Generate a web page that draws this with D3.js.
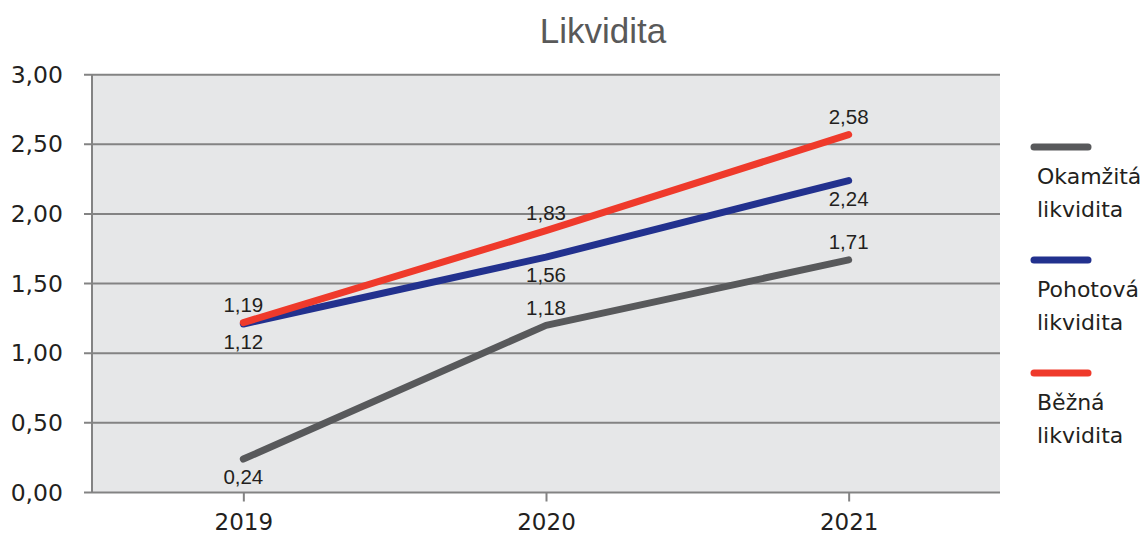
<!DOCTYPE html>
<html>
<head>
<meta charset="utf-8">
<script src="https://cdn.jsdelivr.net/npm/d3@7"></script>
<style>
  body { margin: 0; background: #fff; }
  text { font-family: "Liberation Sans", Arial, sans-serif; }
</style>
</head>
<body>
<div id="chart"></div>
<script>
// categories and series (plotted values, labels as printed)
var years = ["2019", "2020", "2021"];
var okamzita = [0.24, 1.20, 1.67];
var pohotova = [1.21, 1.69, 2.24];
var bezna = [1.22, 1.88, 2.57];
var okamzitaLabels = ["0,24", "1,18", "1,71"];
var pohotovaLabels = ["1,12", "1,56", "2,24"];
var beznaLabels = ["1,19", "1,83", "2,58"];
var seriesNames = [["Okamžitá", "likvidita"], ["Pohotová", "likvidita"], ["Běžná", "likvidita"]];
var yTicks = [0, 0.5, 1, 1.5, 2, 2.5, 3];

var W = 1145, H = 537,
    margin = {top: 74.7, right: 145, bottom: 44.5, left: 92},
    w = W - margin.left - margin.right,
    h = H - margin.top - margin.bottom;

var series = [
  {name: seriesNames[0], values: okamzita, labels: okamzitaLabels, color: "#58595b", side: [1, -1, -1]},
  {name: seriesNames[1], values: pohotova, labels: pohotovaLabels, color: "#22318e", side: [1, 1, 1]},
  {name: seriesNames[2], values: bezna, labels: beznaLabels, color: "#ef3a2b", side: [-1, -1, -1]}
];

var locale = d3.formatLocale({decimal: ",", thousands: " ", grouping: [3], currency: ["", " Kč"]});
var fmt = locale.format(".2f");
var wide = "'DejaVu Sans', Verdana, sans-serif";

var svg = d3.select("#chart").append("svg")
    .attr("width", W)
    .attr("height", H);

svg.append("text")
    .attr("x", 603)
    .attr("y", 43)
    .attr("text-anchor", "middle")
    .style("font-size", "35px")
    .style("fill", "#595959")
    .text("Likvidita");

var g = svg.append("g")
    .attr("transform", "translate(" + margin.left + "," + margin.top + ")");

var x = d3.scalePoint().domain(years).range([0, w]).padding(0.5);
var y = d3.scaleLinear().domain([0, 3]).range([h, 0]);

g.append("rect")
    .attr("width", w)
    .attr("height", h)
    .style("fill", "#e6e7e8");

// gridlines + left ticks
g.selectAll(".grid")
    .data(yTicks)
    .enter().append("line")
    .attr("class", "grid")
    .attr("x1", -8)
    .attr("x2", w)
    .attr("y1", function(d) { return y(d); })
    .attr("y2", function(d) { return y(d); })
    .style("stroke", "#838383")
    .style("stroke-width", 2);

g.append("line")
    .attr("x1", 0).attr("x2", 0)
    .attr("y1", 0).attr("y2", h)
    .style("stroke", "#838383")
    .style("stroke-width", 2);

var yAxis = d3.axisLeft(y)
    .tickValues(yTicks)
    .tickFormat(fmt)
    .tickSize(0)
    .tickPadding(29);
g.append("g").call(yAxis)
    .call(function(a) { a.select(".domain").remove(); })
    .selectAll("text")
    .style("font-size", "23.5px")
    .style("font-family", wide)
    .style("fill", "#231f20");

var xAxis = d3.axisBottom(x).tickSize(9).tickPadding(12);
var xa = g.append("g")
    .attr("transform", "translate(0," + h + ")")
    .call(xAxis);
xa.select(".domain").remove();
xa.selectAll("line").style("stroke", "#838383").style("stroke-width", 2);
xa.selectAll("text")
    .style("font-size", "23px")
    .style("font-family", wide)
    .style("fill", "#231f20");

var line = d3.line()
    .x(function(d, i) { return x(years[i]); })
    .y(function(d) { return y(d); });

series.forEach(function(s) {
  g.append("path")
      .datum(s.values)
      .attr("d", line)
      .style("fill", "none")
      .style("stroke", s.color)
      .style("stroke-width", 7)
      .style("stroke-linecap", "round")
      .style("stroke-linejoin", "round");
});

series.forEach(function(s) {
  g.selectAll(null)
      .data(s.values)
      .enter().append("text")
      .attr("x", function(d, i) { return x(years[i]); })
      .attr("y", function(d, i) { return y(d) + s.side[i] * 18; })
      .attr("dy", "0.35em")
      .attr("text-anchor", "middle")
      .style("font-size", "20.5px")
      .style("fill", "#231f20")
      .text(function(d, i) { return s.labels[i]; });
});

// legend
var legend = svg.append("g").attr("transform", "translate(1034,147)");
var item = legend.selectAll("g")
    .data(series)
    .enter().append("g")
    .attr("transform", function(d, i) { return "translate(0," + i * 113 + ")"; });
item.append("line")
    .attr("x1", 0).attr("x2", 54)
    .style("stroke", function(d) { return d.color; })
    .style("stroke-width", 7)
    .style("stroke-linecap", "round");
item.append("text")
    .attr("x", 3)
    .attr("y", 37)
    .style("font-size", "22px")
    .style("font-family", wide)
    .style("fill", "#231f20")
    .text(function(d) { return d.name[0]; });
item.append("text")
    .attr("x", 3)
    .attr("y", 70)
    .style("font-size", "22px")
    .style("font-family", wide)
    .style("fill", "#231f20")
    .text(function(d) { return d.name[1]; });
</script>
</body>
</html>
